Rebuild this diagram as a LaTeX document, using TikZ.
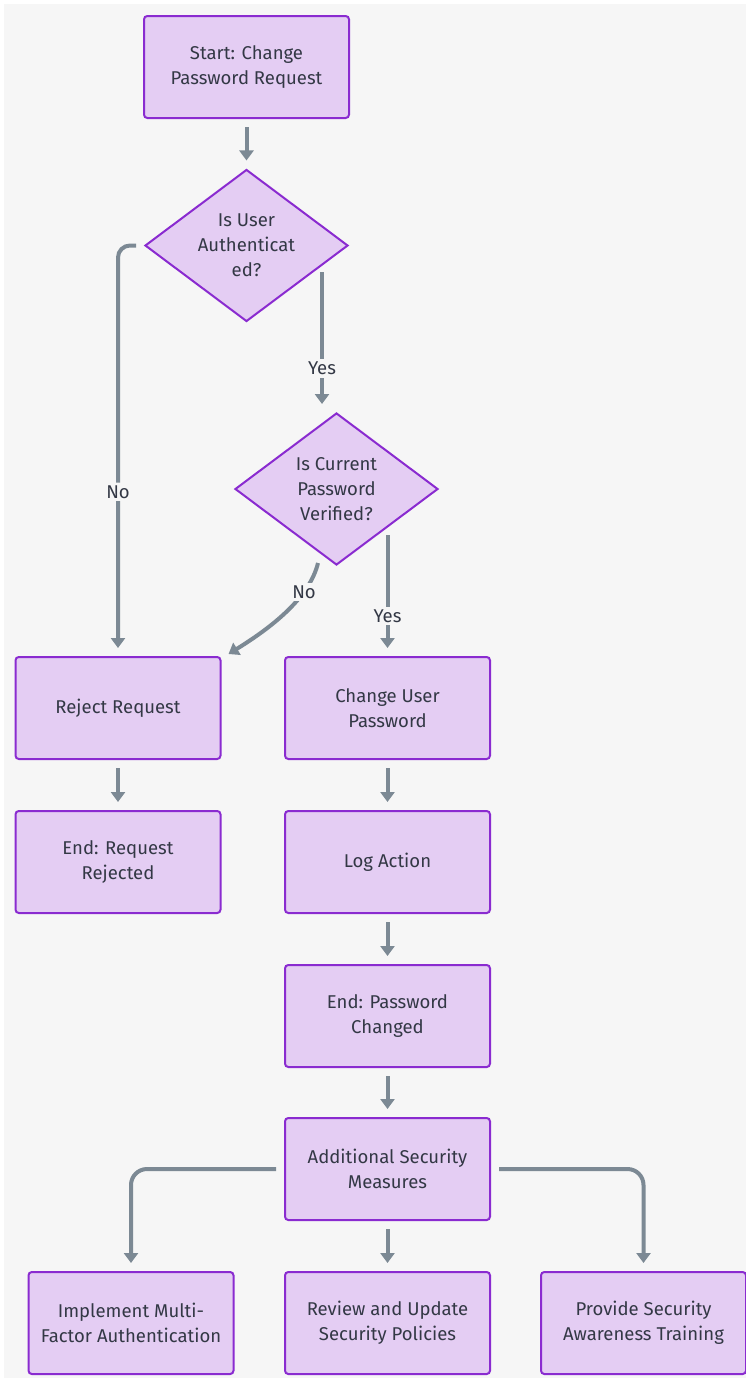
\documentclass[tikz,border=0pt]{standalone}
\usepackage{fontspec}
\setmainfont{Fira Sans}
\usetikzlibrary{shapes.geometric,arrows.meta,calc}
\definecolor{bgc}{HTML}{F6F6F6}
\definecolor{fillc}{HTML}{E4CDF3}
\definecolor{linec}{HTML}{8A2BD0}
\definecolor{arrc}{HTML}{7C8994}
\definecolor{txtc}{HTML}{333845}
\begin{document}
\begin{tikzpicture}[x=0.75pt,y=-0.75pt,
  every node/.style={font=\fontsize{13.9pt}{18.75pt}\selectfont, text=txtc},
  box/.style={draw=linec, fill=fillc, line width=1.5pt, rounded corners=2.5pt,
    minimum width=153.75pt, minimum height=76.5pt, align=center, inner sep=0pt},
  dec/.style={diamond, aspect=1.336, draw=linec, fill=fillc, line width=1.5pt,
    minimum width=152.25pt, minimum height=114pt, align=center, inner sep=0pt},
  arr/.style={draw=arrc, line width=3pt, -{Triangle[width=10.5pt,length=7.5pt]}},
  gap/.style={shorten <=6pt, shorten >=6pt},
  lbl/.style={fill=bgc, inner sep=2pt}]

% canvas
\useasboundingbox (0,0) rectangle (746,1378);
\fill[white] (0,0) rectangle (746,1378);
\fill[bgc] (4,4) rectangle (746,1378);

% nodes
\node[box] (start)  at (246.5,67)   {Start: Change\\Password Request};
\node[dec] (d1)     at (246.5,245.5) {Is User\\Authenticat\\ed?};
\node[dec] (d2)     at (336.5,489)  {Is Current\\Password\\Verified?};
\node[box] (reject) at (118,708)    {Reject Request};
\node[box] (change) at (387.5,708)  {Change User\\Password};
\node[box] (endrej) at (118,862)    {End: Request\\Rejected};
\node[box] (log)    at (387.5,862)  {Log Action};
\node[box] (endpw)  at (387.5,1016) {End: Password\\Changed};
\node[box] (addl)   at (387.5,1169) {Additional Security\\Measures};
\node[box] (mfa)    at (131,1323)   {Implement Multi-\\Factor Authentication};
\node[box] (review) at (387.5,1323) {Review and Update\\Security Policies};
\node[box] (train)  at (643.5,1323) {Provide Security\\Awareness Training};

% connectors
\draw[arr,gap] (start) -- (d1);
\draw[arr,gap,rounded corners=9pt] (d1.west) -| (reject.north)
  node[lbl,pos=0.8] (lno1) {No};
\coordinate (y1) at ($(d1.center)+(75.5,26.5)$);
\draw[arr,shorten >=6pt] (y1) -- (y1 |- d2.north)
  node[lbl,pos=0.69] (lyes1) {Yes};
\draw[arr] ($(d2.south)+(-18.5,-3)$) .. controls +(-8,33) and +(47,-29) .. ($(reject.north east)+(7,-2)$)
  node[lbl,pos=0.3] (lno2) {No};
\coordinate (y2) at ($(d2.center)+(51,46)$);
\draw[arr,shorten >=6pt] (y2) -- (change)
  node[lbl,pos=0.67] (lyes2) {Yes};
\draw[arr,gap] (reject) -- (endrej);
\draw[arr,gap] (change) -- (log);
\draw[arr,gap] (log) -- (endpw);
\draw[arr,gap] (endpw) -- (addl);
\draw[arr,gap,rounded corners=12pt] (addl.west) -| (mfa.north);
\draw[arr,gap] (addl) -- (review);
\draw[arr,gap,rounded corners=12pt] (addl.east) -| (train.north);
\end{tikzpicture}
\end{document}
